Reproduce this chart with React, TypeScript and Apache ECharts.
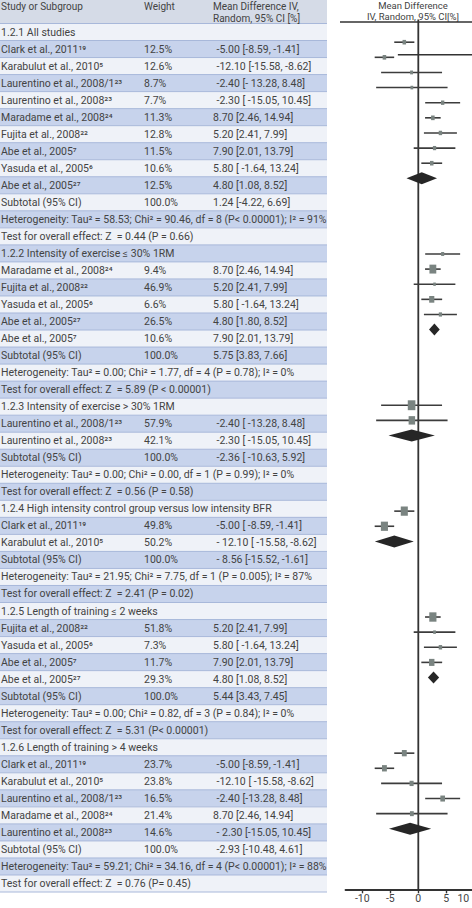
import React, { useEffect, useRef } from "react";
import * as echarts from "echarts";

// ---------------- data ----------------
const groupTitles = [
  "1.2.1 All studies",
  "1.2.2 Intensity of exercise ≤ 30% 1RM",
  "1.2.3 Intensity of exercise > 30% 1RM",
  "1.2.4 High intensity control group versus low intensity BFR",
  "1.2.5 Length of training ≤ 2 weeks",
  "1.2.6 Length of training > 4 weeks",
];

const studyNames = [
  ["Clark et al., 2011¹⁹", "Karabulut et al., 2010⁵", "Laurentino et al., 2008/1²³", "Laurentino et al., 2008²³", "Maradame et al., 2008²⁴", "Fujita et al., 2008²²", "Abe et al., 2005⁷", "Yasuda et al., 2005⁶", "Abe et al., 2005²⁷"],
  ["Maradame et al., 2008²⁴", "Fujita et al., 2008²²", "Yasuda et al., 2005⁶", "Abe et al., 2005²⁷", "Abe et al., 2005⁷"],
  ["Laurentino et al., 2008/1²³", "Laurentino et al., 2008²³"],
  ["Clark et al., 2011¹⁹", "Karabulut et al., 2010⁵"],
  ["Fujita et al., 2008²²", "Yasuda et al., 2005⁶", "Abe et al., 2005⁷", "Abe et al., 2005²⁷"],
  ["Clark et al., 2011¹⁹", "Karabulut et al., 2010⁵", "Laurentino et al., 2008/1²³", "Maradame et al., 2008²⁴", "Laurentino et al., 2008²³"],
];

const studyWeights = [
  [12.5, 12.6, 8.7, 7.7, 11.3, 12.8, 11.5, 10.6, 12.5],
  [9.4, 46.9, 6.6, 26.5, 10.6],
  [57.9, 42.1],
  [49.8, 50.2],
  [51.8, 7.3, 11.7, 29.3],
  [23.7, 23.8, 16.5, 21.4, 14.6],
];

const studyMeans = [
  [-5.0, -12.1, -2.4, -2.3, 8.7, 5.2, 7.9, 5.8, 4.8],
  [8.7, 5.2, 5.8, 4.8, 7.9],
  [-2.4, -2.3],
  [-5.0, -12.1],
  [5.2, 5.8, 7.9, 4.8],
  [-5.0, -12.1, -2.4, 8.7, -2.3],
];

const studyLows = [
  [-8.59, -15.58, -13.28, -15.05, 2.46, 2.41, 2.01, -1.64, 1.08],
  [2.46, 2.41, -1.64, 1.08, 2.01],
  [-13.28, -15.05],
  [-8.59, -15.58],
  [2.41, -1.64, 2.01, 1.08],
  [-8.59, -15.58, -13.28, 2.46, -15.05],
];

const studyHighs = [
  [-1.41, -8.62, 8.48, 10.45, 14.94, 7.99, 13.79, 13.24, 8.52],
  [14.94, 7.99, 13.24, 8.52, 13.79],
  [8.48, 10.45],
  [-1.41, -8.62],
  [7.99, 13.24, 13.79, 8.52],
  [-1.41, -8.62, 8.48, 14.94, 10.45],
];

const studyCiLabels = [
  ["-5.00 [-8.59, -1.41]", "-12.10 [-15.58, -8.62]", "-2.40 [- 13.28, 8.48]", "-2.30 [ -15.05, 10.45]", "8.70 [2.46, 14.94]", "5.20 [2.41, 7.99]", "7.90 [2.01, 13.79]", "5.80 [ -1.64, 13.24]", "4.80 [1.08, 8.52]"],
  ["8.70 [2.46, 14.94]", "5.20 [2.41, 7.99]", "5.80 [ -1.64, 13.24]", "4.80 [1.80, 8.52]", "7.90 [2.01, 13.79]"],
  ["-2.40 [ -13.28, 8.48]", "-2.30 [ -15.05, 10.45]"],
  ["-5.00 [ -8.59, -1.41]", "- 12.10 [ -15.58, -8.62]"],
  ["5.20 [2.41, 7.99]", "5.80 [ -1.64, 13.24]", "7.90 [2.01, 13.79]", "4.80 [1.08, 8.52]"],
  ["-5.00 [-8.59, -1.41]", "-12.10 [ -15.58, -8.62]", "-2.40 [-13.28, 8.48]", "8.70 [2.46, 14.94]", "- 2.30 [-15.05, 10.45]"],
];

const subtotalMeans = [1.24, 5.75, -2.36, -8.56, 5.44, -2.93];
const subtotalLows = [-4.22, 3.83, -10.63, -15.52, 3.43, -10.48];
const subtotalHighs = [6.69, 7.66, 5.92, -1.61, 7.45, 4.61];
const subtotalCiLabels = ["1.24 [-4.22, 6.69]", "5.75 [3.83, 7.66]", "-2.36 [ -10.63, 5.92]", "- 8.56 [-15.52, -1.61]", "5.44 [3.43, 7.45]", "-2.93 [-10.48, 4.61]"];

const heterogeneityLabels = [
  "Heterogeneity: Tau² = 58.53; Chi² = 90.46, df = 8 (P< 0.00001); I² = 91%",
  "Heterogeneity: Tau² = 0.00; Chi² = 1.77, df = 4 (P = 0.78); I² = 0%",
  "Heterogeneity: Tau² = 0.00; Chi² = 0.00, df = 1 (P = 0.99); I² = 0%",
  "Heterogeneity: Tau² = 21.95; Chi² = 7.75, df = 1 (P = 0.005); I² = 87%",
  "Heterogeneity: Tau² = 0.00; Chi² = 0.82, df = 3 (P = 0.84); I² = 0%",
  "Heterogeneity: Tau² = 59.21; Chi² = 34.16, df = 4 (P< 0.00001); I² = 88%",
];

const overallEffectLabels = [
  "Test for overall effect: Z  = 0.44 (P = 0.66)",
  "Test for overall effect: Z  = 5.89 (P < 0.00001)",
  "Test for overall effect: Z  = 0.56 (P = 0.58)",
  "Test for overall effect: Z  = 2.41 (P = 0.02)",
  "Test for overall effect: Z  = 5.31 (P< 0.00001)",
  "Test for overall effect: Z  = 0.76 (P= 0.45)",
];

const headerLabels = ["Study or Subgroup", "Weight", "Mean Difference IV,", "Random, 95% CI [%]"];
const plotHeaderLabels = ["Mean Difference", "IV, Random, 95% CI[%]"];
const xTickValues = [-20, -10, 0, 10, 20];
const strayLineX = [-7.3, 30];
const strayLineRow = 1.83;

// ---------------- layout / style ----------------
const CW = 540;
const CH = 908;
const TABLE_W = 327;
const ROW0 = 32; // y center of first table row
const PITCH = 17.03;
const FONT = "Roboto, 'Noto Sans', sans-serif";
const FS = 10.5;
const TXT = "#434343";
const BLUE = "#c7d3ec";
const WHITE = "#eff2f8";
const SEP = "#a8b8da";
const HEAD_BG = "#d5dbe7";
const Y_MIN = -0.5;
const Y_MAX = 57;
const TOP_LINE_Y = 22;

type Row = { kind: string; g: number; i: number; t: number; p: number };

function buildRows(): Row[] {
  const rows: Row[] = [];
  let t = 0;
  let p = 0;
  groupTitles.forEach((_, g) => {
    rows.push({ kind: "head", g, i: -1, t, p });
    t++; p++;
    studyNames[g].forEach((__, i) => {
      rows.push({ kind: "study", g, i, t, p });
      t++; p++;
    });
    rows.push({ kind: "sub", g, i: -1, t, p }); t++; p++;
    rows.push({ kind: "het", g, i: -1, t, p }); t++; p++;
    rows.push({ kind: "test", g, i: -1, t, p }); t++; p++;
    p++; // blank line in the plot between subgroups
  });
  return rows;
}

function txt(x: number, y: number, s: string, extra: any = {}) {
  return {
    type: "text",
    x,
    y,
    silent: true,
    style: {
      text: s,
      fill: TXT,
      fontSize: FS,
      fontFamily: FONT,
      align: "left",
      verticalAlign: "middle",
      ...extra,
    },
  };
}

function buildTableElements(): any[] {
  const rows = buildRows();
  const els: any[] = [];
  els.push({ type: "rect", silent: true, shape: { x: 0, y: 0, width: TABLE_W, height: 23.5 }, style: { fill: HEAD_BG } });
  rows.forEach((r) => {
    const y0 = ROW0 - PITCH / 2 + r.t * PITCH;
    els.push({ type: "rect", silent: true, shape: { x: 0, y: y0, width: TABLE_W, height: PITCH }, style: { fill: r.t % 2 === 1 ? BLUE : WHITE } });
  });
  rows.forEach((r) => {
    const y1 = ROW0 - PITCH / 2 + (r.t + 1) * PITCH;
    els.push({ type: "line", silent: true, shape: { x1: 0, y1, x2: TABLE_W, y2: y1 }, style: { stroke: SEP, lineWidth: 1 } });
  });
  els.push({ type: "line", silent: true, shape: { x1: 0, y1: 23.5, x2: TABLE_W, y2: 23.5 }, style: { stroke: SEP, lineWidth: 1.2 } });

  const xName = 1;
  const xW = 144;
  const xCi = 213;
  const ciX = (s: string) => (s.startsWith("-") ? xCi + 3.5 : xCi);
  els.push(txt(xName, 6.1, headerLabels[0], { fontSize: 10 }));
  els.push(txt(xW, 6.1, headerLabels[1], { fontSize: 10 }));
  els.push(txt(xCi, 6.1, headerLabels[2], { fontSize: 10 }));
  els.push(txt(xCi, 18.1, headerLabels[3], { fontSize: 10 }));

  rows.forEach((r) => {
    const y = ROW0 + r.t * PITCH;
    if (r.kind === "head") els.push(txt(xName, y, groupTitles[r.g]));
    else if (r.kind === "study") {
      els.push(txt(xName, y, studyNames[r.g][r.i]));
      els.push(txt(xW, y, studyWeights[r.g][r.i].toFixed(1) + "%"));
      const s = studyCiLabels[r.g][r.i];
      els.push(txt(ciX(s), y, s));
    } else if (r.kind === "sub") {
      els.push(txt(xName, y, "Subtotal (95% CI)"));
      els.push(txt(xW, y, "100.0%"));
      const s = subtotalCiLabels[r.g];
      els.push(txt(ciX(s), y, s));
    } else if (r.kind === "het") els.push(txt(xName, y, heterogeneityLabels[r.g]));
    else els.push(txt(xName, y, overallEffectLabels[r.g]));
  });

  els.push(txt(413, 5.8, plotHeaderLabels[0], { align: "center", fontSize: 9.5 }));
  els.push(txt(413, 16.2, plotHeaderLabels[1], { align: "center", fontSize: 9.5 }));
  els.push({ type: "line", silent: true, shape: { x1: 340, y1: TOP_LINE_Y, x2: CW, y2: TOP_LINE_Y }, style: { stroke: "#333", lineWidth: 1.6 } });
  return els;
}

function buildOption(els: any[]) {
  const rows = buildRows();
  const studyData: number[][] = [];
  const subData: number[][] = [];
  rows.forEach((r) => {
    if (r.kind === "study") studyData.push([r.p, studyMeans[r.g][r.i], studyLows[r.g][r.i], studyHighs[r.g][r.i], studyWeights[r.g][r.i]]);
    if (r.kind === "sub") subData.push([r.p, subtotalMeans[r.g], subtotalLows[r.g], subtotalHighs[r.g]]);
  });

  const gridTop = 19.5;
  const gridBottomY = 889.3;
  const xMin = -26;
  const xMax = 30;
  const gridLeft = 345.5;
  const gridWidth = (xMax - xMin) * 2.8;

  return {
    animation: false,
    graphic: { elements: els },
    grid: { left: gridLeft, top: gridTop, width: gridWidth, height: gridBottomY - gridTop, containLabel: false },
    xAxis: {
      type: "value",
      min: xMin,
      max: xMax,
      position: "bottom",
      splitLine: { show: false },
      axisLine: { show: true, onZero: false, lineStyle: { color: "#333", width: 1.8 } },
      axisTick: { show: true, customValues: xTickValues, length: 4, lineStyle: { color: "#333", width: 1.4 } },
      axisLabel: {
        show: true,
        customValues: xTickValues,
        formatter: (v: number) => (v === xTickValues[xTickValues.length - 1] ? "{r|" + String(v / 2) + "}" : String(v / 2)),
        color: "#444",
        fontSize: 10.5,
        fontFamily: FONT,
        margin: 4,
        rich: { r: { color: "#444", fontSize: 10.5, fontFamily: FONT, padding: [0, 22, 0, 0] } },
      },
    },
    yAxis: { type: "value", min: Y_MIN, max: Y_MAX, inverse: true, show: false },
    series: [
      {
        type: "custom",
        silent: true,
        z: 3,
        data: studyData,
        encode: { x: [1, 2, 3], y: 0 },
        renderItem: (params: any, api: any) => {
          const row = api.value(0);
          const pm = api.coord([api.value(1), row]);
          const pl = api.coord([api.value(2), row]);
          const ph = api.coord([api.value(3), row]);
          const w = Math.sqrt(api.value(4));
          const h = w * 1.3;
          return {
            type: "group",
            children: [
              { type: "line", shape: { x1: pl[0], y1: pl[1], x2: ph[0], y2: ph[1] }, style: { stroke: "#3c3c3c", lineWidth: 1.6 } },
              { type: "rect", shape: { x: pm[0] - w / 2, y: pm[1] - h / 2, width: w, height: h }, style: { fill: "#7a8481" } },
            ],
          };
        },
      },
      {
        type: "custom",
        silent: true,
        z: 4,
        data: subData,
        encode: { x: [1, 2, 3], y: 0 },
        renderItem: (params: any, api: any) => {
          const row = api.value(0);
          const pm = api.coord([api.value(1), row]);
          const pl = api.coord([api.value(2), row]);
          const ph = api.coord([api.value(3), row]);
          return {
            type: "polygon",
            shape: { points: [[pl[0], pl[1]], [pm[0], pm[1] - 6], [ph[0], ph[1]], [pm[0], pm[1] + 6]] },
            style: { fill: "#262626" },
          };
        },
      },
    ],
  };
}

export default function App() {
  const ref = useRef<HTMLDivElement>(null);
  useEffect(() => {
    if (!ref.current) return;
    const chart = echarts.init(ref.current, undefined, { renderer: "svg" });
    const els = buildTableElements();
    chart.setOption(buildOption(els) as any);
    // zero reference line and the stray line of the original figure, placed through the axis scales
    const z0 = chart.convertToPixel({ gridIndex: 0 } as any, [0, Y_MIN]) as any;
    const z1 = chart.convertToPixel({ gridIndex: 0 } as any, [0, Y_MAX]) as any;
    const s0 = chart.convertToPixel({ gridIndex: 0 } as any, [strayLineX[0], strayLineRow]) as any;
    const s1 = chart.convertToPixel({ gridIndex: 0 } as any, [strayLineX[1], strayLineRow]) as any;
    const extra: any[] = [];
    if (z0 && z1) {
      const top = Math.min(TOP_LINE_Y, z0[1]);
      extra.push({ type: "rect", silent: true, z: 1, shape: { x: z0[0] - 0.9, y: top, width: 1.8, height: z1[1] - top }, style: { fill: "#333" } });
    }
    if (s0 && s1) extra.push({ type: "rect", silent: true, z: 1, shape: { x: s0[0], y: s0[1] - 0.8, width: s1[0] - s0[0], height: 1.6 }, style: { fill: "#333" } });
    chart.setOption({ graphic: { elements: els.concat(extra) } } as any);
    return () => chart.dispose();
  }, []);
  return (
    <div style={{ position: "fixed", left: 0, top: 0, width: 472, height: 908, overflow: "hidden", background: "#fff" }}>
      <div ref={ref} style={{ width: CW, height: CH }} />
    </div>
  );
}
